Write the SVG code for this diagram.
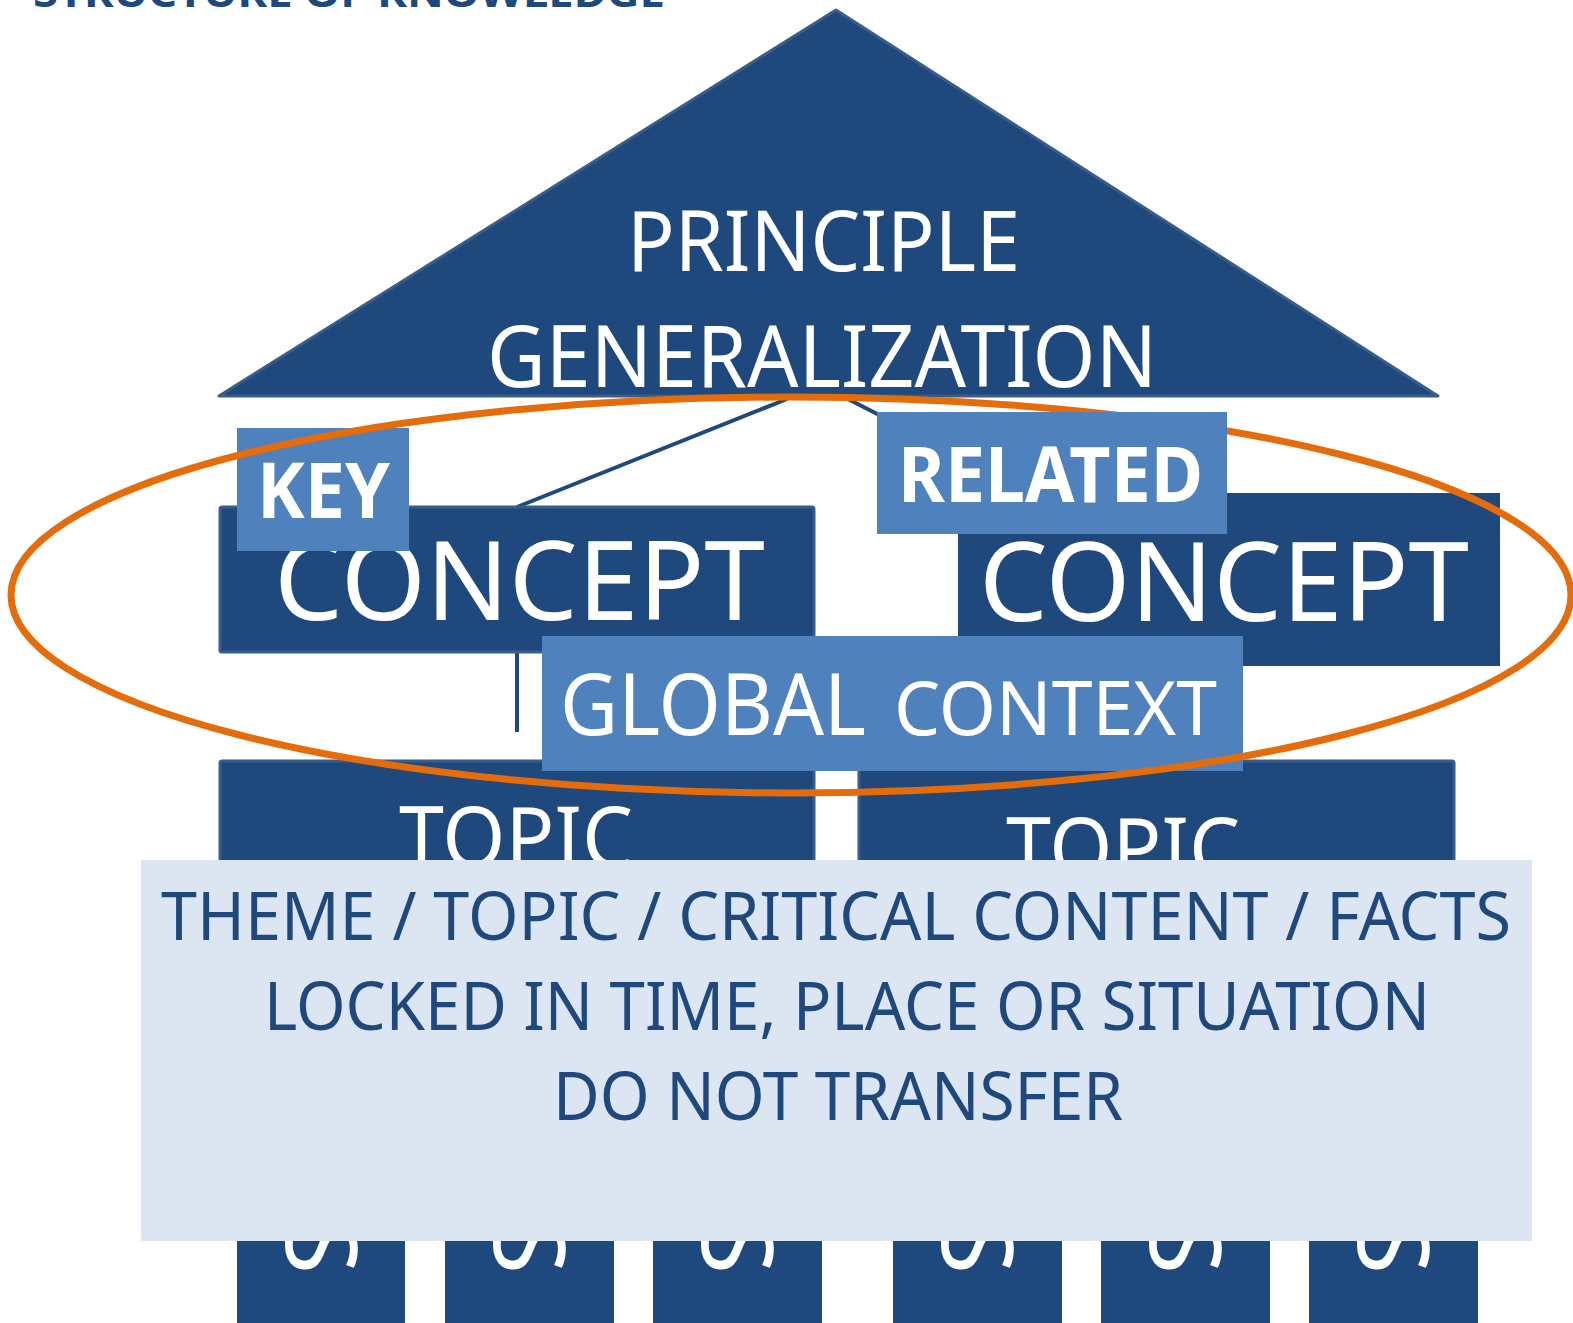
<svg xmlns="http://www.w3.org/2000/svg" width="1573" height="1323" viewBox="0 0 1573 1323">
<style>
.dark{fill:#1F497D}
.darks{fill:#1F497D;stroke:#385D8A;stroke-width:3}
.light{fill:#4F81BD}
.w{fill:#FFFFFF;font-family:"Noto Sans","Open Sans",sans-serif}
.b{fill:#1F497D;font-family:"Noto Sans","Open Sans",sans-serif}
.bold{font-weight:bold}
.conn{stroke:#1F497D;stroke-width:4;fill:none}
</style>
<rect width="1573" height="1323" fill="#FFFFFF"/>
<g id="title">
<text class="b bold" x="33" y="7" font-size="40" textLength="632" lengthAdjust="spacingAndGlyphs">STRUCTURE OF KNOWLEDGE</text>
</g>
<g id="principle">
<polygon class="darks" points="836,10 1438,396 219,396" stroke-linejoin="round"/>
<text class="w" x="627" y="271" font-size="84" textLength="393" lengthAdjust="spacingAndGlyphs">PRINCIPLE</text>
<text class="w" x="487" y="387" font-size="85" textLength="670" lengthAdjust="spacingAndGlyphs">GENERALIZATION</text>
</g>
<g id="connectors">
<line class="conn" x1="787" y1="399" x2="517" y2="507"/>
<line class="conn" x1="848" y1="399" x2="885" y2="418"/>
<line class="conn" x1="517" y1="653" x2="517" y2="732"/>
</g>
<g id="key-concept">
<rect class="darks" x="220" y="507" width="594" height="145" rx="2"/>
<text class="w" x="274" y="620" font-size="109" textLength="491" lengthAdjust="spacingAndGlyphs">CONCEPT</text>
</g>
<g id="topic-left">
<rect class="darks" x="220" y="761" width="594" height="160" rx="2"/>
<text class="w" x="399" y="867" font-size="84" textLength="234" lengthAdjust="spacingAndGlyphs">TOPIC</text>
</g>
<g id="topic-right">
<rect class="darks" x="859" y="761" width="595" height="160" rx="2"/>
<text class="w" x="1006" y="878" font-size="84" textLength="234" lengthAdjust="spacingAndGlyphs">TOPIC</text>
</g>
<g id="related-concept">
<rect class="dark" x="958" y="493" width="542" height="173"/>
<text class="w" x="979" y="621" font-size="110" textLength="490" lengthAdjust="spacingAndGlyphs">CONCEPT</text>
</g>
<g id="global-context">
<rect class="light" x="542" y="636" width="701" height="135"/>
<text class="w" x="560" y="735" font-size="85" textLength="306" lengthAdjust="spacingAndGlyphs">GLOBAL</text>
<text class="w" x="894" y="735" font-size="74" textLength="323" lengthAdjust="spacingAndGlyphs">CONTEXT</text>
</g>
<g id="key-label">
<rect class="light" x="237" y="428" width="172" height="123"/>
<text class="w bold" x="257" y="518" font-size="77" textLength="133" lengthAdjust="spacingAndGlyphs">KEY</text>
</g>
<g id="ellipse">
<ellipse cx="791" cy="595" rx="780" ry="198" fill="none" stroke="#E46C0A" stroke-width="7"/>
</g>
<g id="related-label">
<rect class="light" x="877" y="412" width="350" height="122"/>
<text class="w bold" x="898" y="502" font-size="77" textLength="305" lengthAdjust="spacingAndGlyphs">RELATED</text>
</g>
<g id="facts">
<rect class="dark" x="237" y="1200" width="168" height="123"/>
<rect class="dark" x="445" y="1200" width="169" height="123"/>
<rect class="dark" x="653" y="1200" width="169" height="123"/>
<rect class="dark" x="893" y="1200" width="169" height="123"/>
<rect class="dark" x="1101" y="1200" width="169" height="123"/>
<rect class="dark" x="1309" y="1200" width="169" height="123"/>
<text class="w" font-size="98" text-anchor="end" transform="translate(286,1274) rotate(90)">S</text>
<text class="w" font-size="98" text-anchor="end" transform="translate(494,1274) rotate(90)">S</text>
<text class="w" font-size="98" text-anchor="end" transform="translate(702,1274) rotate(90)">S</text>
<text class="w" font-size="98" text-anchor="end" transform="translate(942,1274) rotate(90)">S</text>
<text class="w" font-size="98" text-anchor="end" transform="translate(1150,1274) rotate(90)">S</text>
<text class="w" font-size="98" text-anchor="end" transform="translate(1358,1274) rotate(90)">S</text>
</g>
<g id="note">
<rect x="141" y="860" width="1391" height="381" fill="#DCE6F2"/>
<text class="b" x="161" y="940" font-size="67" textLength="1350" lengthAdjust="spacingAndGlyphs">THEME / TOPIC / CRITICAL CONTENT / FACTS</text>
<text class="b" x="264" y="1030" font-size="67" textLength="1166" lengthAdjust="spacingAndGlyphs">LOCKED IN TIME, PLACE OR SITUATION</text>
<text class="b" x="553" y="1120" font-size="67" textLength="570" lengthAdjust="spacingAndGlyphs">DO NOT TRANSFER</text>
</g>
</svg>
